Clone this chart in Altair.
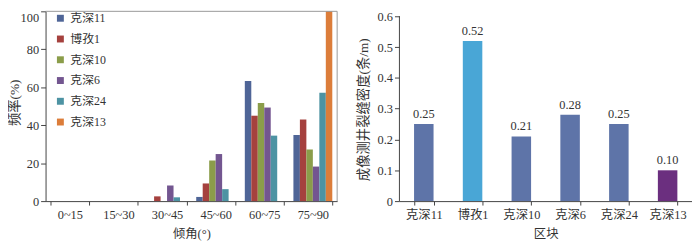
import altair as alt
import pandas as pd

# ---------------- data ----------------
angle_bins = ["0~15", "15~30", "30~45", "45~60", "60~75", "75~90"]
wells = ["克深11", "博孜1", "克深10", "克深6", "克深24", "克深13"]
freq_ks11 = [0, 0, 0, 2.2, 63.3, 34.8]
freq_bz1 = [0, 0, 2.5, 9.3, 45.0, 43.0]
freq_ks10 = [0, 0, 0, 21.4, 51.7, 27.2]
freq_ks6 = [0, 0, 8.2, 24.8, 49.3, 18.2]
freq_ks24 = [0, 0, 2.0, 6.3, 34.5, 57.1]
freq_ks13 = [0, 0, 0, 0, 0, 100]
well_colors = ["#4F6597", "#A5413E", "#8B9D4A", "#735690", "#4D93A3", "#DC7D3A"]

density_blocks = ["克深11", "博孜1", "克深10", "克深6", "克深24", "克深13"]
density_values = [0.25, 0.52, 0.21, 0.28, 0.25, 0.10]
density_colors = ["#5E74A8", "#49A6D6", "#5E74A8", "#5E74A8", "#5E74A8", "#6B2F7F"]
density_labels = ["0.25", "0.52", "0.21", "0.28", "0.25", "0.10"]
density_ticks = [0, 0.1, 0.2, 0.3, 0.4, 0.5, 0.6]

series = [freq_ks11, freq_bz1, freq_ks10, freq_ks6, freq_ks24, freq_ks13]
rows = []
for w, vals in zip(wells, series):
    for b, v in zip(angle_bins, vals):
        rows.append({"bin": b, "well": w, "freq": v})
freq_df = pd.DataFrame(rows)

dens_df = pd.DataFrame({"block": density_blocks, "density": density_values,
                        "label": density_labels})

FONT = "Liberation Serif, Noto Sans CJK SC"
AX = "#444444"
TXT = "#333333"

LW, LH = 295, 192
RW, RH = 296, 192

# ---------------- left chart ----------------
bars_left = alt.Chart(freq_df).mark_bar().encode(
    x=alt.X("bin:N", sort=angle_bins,
            scale=alt.Scale(paddingInner=0.2, paddingOuter=0.1),
            axis=alt.Axis(title="倾角(°)", labelAngle=0, tickBand="extent",
                          tickSize=4, labelPadding=4, titleBaseline="middle",
                          titleY=33, titleFontWeight="normal", labelOverlap=False)),
    xOffset=alt.XOffset("well:N", sort=wells),
    y=alt.Y("freq:Q", scale=alt.Scale(domain=[0, 100], nice=False),
            axis=alt.Axis(title="频率(%)", values=[0, 20, 40, 60, 80, 100],
                          grid=False, tickSize=5, labelPadding=2, labelOverlap=False,
                          labelBaseline={"condition": {"test": "datum.value == 100", "value": "top"},
                                         "value": "middle"},
                          titleX=-31, titleY=92, titleBaseline="middle",
                          titleFontSize=13.5, titleFontWeight="normal")),
    color=alt.Color("well:N", sort=wells,
                    scale=alt.Scale(domain=wells, range=well_colors),
                    legend=alt.Legend(title=None, orient="none", legendX=9, legendY=1,
                                      symbolType="square", symbolSize=49,
                                      symbolStrokeWidth=0, rowPadding=9,
                                      labelFontSize=12, labelFont=FONT,
                                      labelColor=TXT, padding=0)),
)

frame_top = alt.Chart(alt.Data(values=[{}])).mark_rule(color="#999999").encode(
    x=alt.value(0), x2=alt.value(LW), y=alt.value(0))
frame_right = alt.Chart(alt.Data(values=[{}])).mark_rule(color="#999999").encode(
    x=alt.value(LW), y=alt.value(0), y2=alt.value(LH))

left = alt.layer(bars_left, frame_top, frame_right).properties(width=LW, height=LH)

# ---------------- right chart ----------------
ymax = 0.6 * RH / 187.0
x_axis_r = alt.Axis(title="区块", labelAngle=0, tickBand="extent",
                    tickSize=4, labelPadding=4, titleBaseline="middle",
                    titleY=33, titleFontWeight="normal", labelOverlap=False)
y_axis_r = alt.Axis(title="成像测井裂缝密度(条/m)",
                    values=density_ticks,
                    labelExpr="datum.value == 0 ? '0' : format(datum.value, '.1f')",
                    grid=False, domain=False, tickSize=5, labelPadding=2,
                    labelOverlap=False,
                    titleX=-36, titleY=99, titleBaseline="middle",
                    titleFontSize=13.5, titleFontWeight="normal")
y_scale_r = alt.Scale(domain=[0, ymax], nice=False)
x_scale_r = alt.Scale(paddingInner=0.6, paddingOuter=0.3)

base_r = alt.Chart(dens_df)
bars_right = base_r.mark_bar().encode(
    x=alt.X("block:N", sort=density_blocks, scale=x_scale_r, axis=x_axis_r),
    y=alt.Y("density:Q", scale=y_scale_r, axis=y_axis_r),
    color=alt.Color("block:N", sort=density_blocks,
                    scale=alt.Scale(domain=density_blocks, range=density_colors),
                    legend=None),
)
text_right = base_r.mark_text(baseline="bottom", dy=-3, fontSize=12.5,
                              font=FONT, color=TXT).encode(
    x=alt.X("block:N", sort=density_blocks, scale=x_scale_r, axis=x_axis_r),
    y=alt.Y("density:Q", scale=y_scale_r, axis=y_axis_r),
    text="label:N",
)
yline = alt.Chart(pd.DataFrame({"y0": [density_ticks[0]], "y1": [density_ticks[-1]]})).mark_rule(
    color=AX).encode(
    x=alt.value(0), y=alt.Y("y0:Q", scale=y_scale_r, axis=y_axis_r), y2="y1:Q")

right = alt.layer(bars_right, text_right, yline).properties(width=RW, height=RH)

chart = alt.hconcat(left, right, spacing=63, bounds="flush").resolve_scale(
    color="independent", y="independent", x="independent"
).properties(
    padding=0,
).configure(
    font=FONT, background="white"
).configure_view(
    stroke=None
).configure_axis(
    labelFont=FONT, titleFont=FONT, labelFontSize=12.5, titleFontSize=12.5,
    labelColor=TXT, titleColor=TXT, domainColor=AX, tickColor=AX,
)

chart.save("out.html", embed_options={"renderer": "svg", "actions": False})
